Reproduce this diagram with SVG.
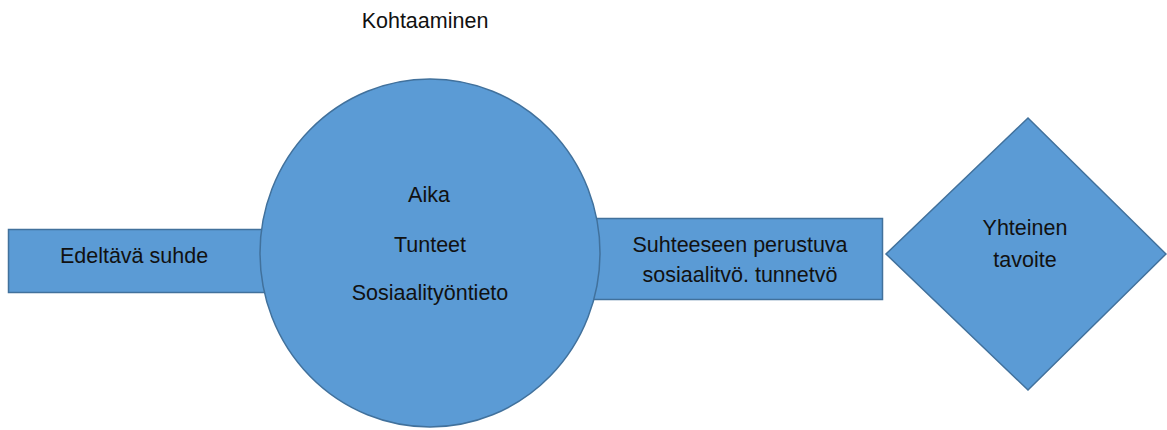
<svg xmlns="http://www.w3.org/2000/svg" width="1167" height="430" viewBox="0 0 1167 430">
<style>
.shape{fill:#5B9BD5;stroke:#41719C;stroke-width:1.5}
.t{font-family:"Liberation Sans",Arial,sans-serif;font-size:21.5px;fill:#111;text-anchor:middle}
</style>
<rect width="1167" height="430" fill="#fff"/>
<g id="connectors"></g>
<g id="title"><text class="t" x="425" y="28">Kohtaaminen</text></g>
<g id="edeltava">
<rect class="shape" x="8.5" y="229.5" width="270" height="63"/>
<text class="t" x="134" y="263">Edeltävä suhde</text>
</g>
<g id="suhteeseen">
<rect class="shape" x="580" y="218.5" width="302.5" height="81"/>
<text class="t" x="740" y="252">Suhteeseen perustuva</text>
<text class="t" x="740" y="282">sosiaalitvö. tunnetvö</text>
</g>
<g id="kohtaaminen">
<ellipse class="shape" cx="430" cy="253" rx="170" ry="174"/>
<text class="t" x="429" y="202">Aika</text>
<text class="t" x="430" y="252">Tunteet</text>
<text class="t" x="430" y="300">Sosiaalityöntieto</text>
</g>
<g id="tavoite">
<polygon class="shape" points="1028,118 1166,254 1028,390 886,254"/>
<text class="t" x="1025" y="235">Yhteinen</text>
<text class="t" x="1025" y="267">tavoite</text>
</g>
</svg>
